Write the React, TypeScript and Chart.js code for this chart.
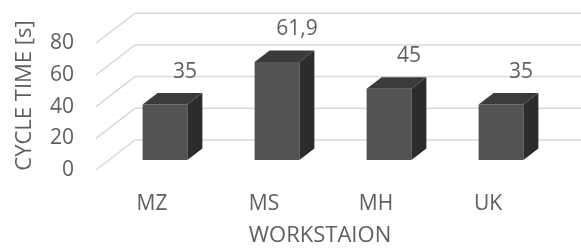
import React, { useEffect, useRef } from 'react';
import { Chart, registerables } from 'chart.js';

Chart.register(...registerables);

const categories = ['MZ', 'MS', 'MH', 'UK'];
const cycleTimes = [35, 61.9, 45, 35];
const valueLabels = ['35', '61,9', '45', '35'];
const yTickValues = [0, 20, 40, 60, 80];

const FONT = "'Open Sans', 'Noto Sans', 'DejaVu Sans', sans-serif";
const TEXT = '#5f5f5f';
const WALL_DX = 39;
const WALL_DY = -30;
const FRONT_FRAC = 1 / 3;
const BAR_DX = 15;
const BAR_DY = -11.5;

const threeD = {
  id: 'threeD',
  beforeDatasetsDraw(chart: any) {
    const { ctx, chartArea, scales } = chart;
    const y = scales.y;
    ctx.save();
    ctx.strokeStyle = '#d9d9d9';
    ctx.lineWidth = 1.5;
    for (const t of y.ticks) {
      const py = y.getPixelForValue(t.value);
      ctx.beginPath();
      ctx.moveTo(chartArea.left, py);
      ctx.lineTo(chartArea.left + WALL_DX, py + WALL_DY);
      ctx.lineTo(chartArea.right + WALL_DX, py + WALL_DY);
      ctx.stroke();
    }
    ctx.restore();
    ctx.save();
    ctx.translate(WALL_DX * FRONT_FRAC, WALL_DY * FRONT_FRAC);
  },
  afterDatasetsDraw(chart: any) {
    const { ctx } = chart;
    ctx.restore();
    const ox = WALL_DX * FRONT_FRAC;
    const oy = WALL_DY * FRONT_FRAC;
    const meta = chart.getDatasetMeta(0);
    meta.data.forEach((el: any, i: number) => {
      const { x, y, base, width } = el.getProps(['x', 'y', 'base', 'width'], true);
      const x1 = x - width / 2 + ox;
      const x2 = x + width / 2 + ox;
      const yt = y + oy;
      const yb = base + oy;
      ctx.save();
      ctx.fillStyle = '#3b3b3b';
      ctx.beginPath();
      ctx.moveTo(x1, yt);
      ctx.lineTo(x2, yt);
      ctx.lineTo(x2 + BAR_DX, yt + BAR_DY);
      ctx.lineTo(x1 + BAR_DX, yt + BAR_DY);
      ctx.closePath();
      ctx.fill();
      ctx.fillStyle = '#2b2d2b';
      ctx.beginPath();
      ctx.moveTo(x2, yt);
      ctx.lineTo(x2 + BAR_DX, yt + BAR_DY);
      ctx.lineTo(x2 + BAR_DX, yb + BAR_DY);
      ctx.lineTo(x2, yb);
      ctx.closePath();
      ctx.fill();
      ctx.fillStyle = TEXT;
      ctx.font = `21px ${FONT}`;
      ctx.textAlign = 'center';
      ctx.textBaseline = 'middle';
      ctx.fillText(valueLabels[i], x + 33, y - 43);
      ctx.restore();
    });
  },
};

export default function App() {
  const ref = useRef<HTMLCanvasElement>(null);
  useEffect(() => {
    document.body.style.margin = '0';
    const chart = new Chart(ref.current!, {
      type: 'bar',
      data: {
        labels: categories,
        datasets: [
          {
            data: cycleTimes,
            backgroundColor: '#545454',
            borderWidth: 0,
            categoryPercentage: 1,
            barPercentage: 0.4,
            clip: false as any,
          },
        ],
      },
      options: {
        animation: false,
        responsive: false,
        events: [],
        layout: { padding: { top: 21, right: 37, left: 5, bottom: 0 } },
        plugins: { legend: { display: false }, tooltip: { enabled: false } },
        scales: {
          x: {
            afterFit: (scale: any) => {
              scale.height = 82;
              scale.paddingLeft = 0;
              scale.paddingRight = 0;
            },
            grid: { display: false, drawTicks: false },
            border: { display: false },
            ticks: { color: TEXT, font: { size: 21, family: FONT }, padding: 21 },
            title: {
              display: true,
              text: 'WORKSTAION',
              color: TEXT,
              font: { size: 22, family: FONT },
              padding: { top: 5, bottom: 3 },
            },
          },
          y: {
            min: 0,
            max: 94,
            afterBuildTicks: (scale: any) => {
              scale.ticks = yTickValues.map((v) => ({ value: v }));
            },
            afterFit: (scale: any) => {
              scale.width = 91;
              scale.paddingTop = 0;
              scale.paddingBottom = 0;
            },
            grid: { display: false, drawTicks: false },
            border: { display: false },
            ticks: { color: TEXT, font: { size: 21, family: FONT }, padding: 22 },
            title: {
              display: true,
              text: 'CYCLE TIME [s]',
              color: TEXT,
              font: { size: 22, family: FONT },
              padding: { top: 7, bottom: 10 },
            },
          },
        },
      },
      plugins: [threeD],
    });
    return () => chart.destroy();
  }, []);
  return <canvas ref={ref} width={581} height={252} />;
}
